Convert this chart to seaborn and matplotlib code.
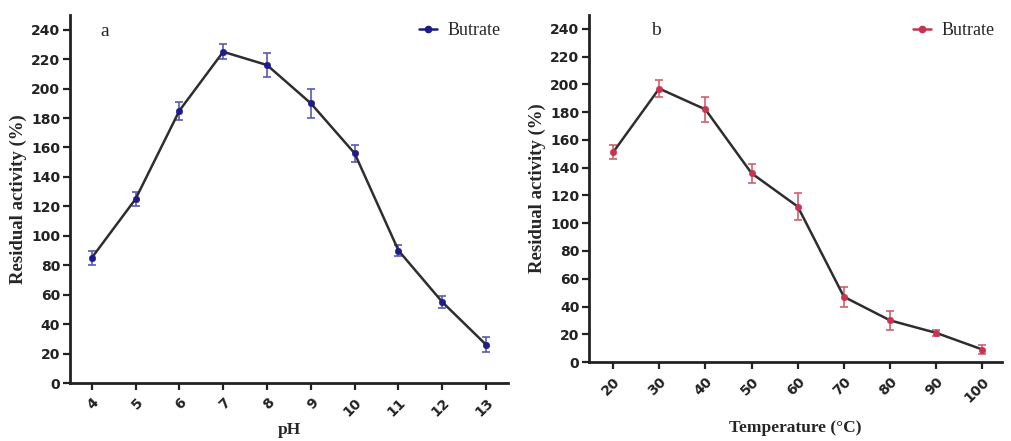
import numpy as np
import pandas as pd
import matplotlib
matplotlib.use("Agg")
import matplotlib.pyplot as plt
from matplotlib.lines import Line2D
import seaborn as sns

# pH panel
ph_values = [4, 5, 6, 7, 8, 9, 10, 11, 12, 13]
ph_activity = [85, 125, 185, 225, 216, 190, 156, 90, 55, 26]
ph_error = [5, 5, 6, 5, 8, 10, 6, 4, 4, 5]

# temperature panel
temp_values = [20, 30, 40, 50, 60, 70, 80, 90, 100]
temp_activity = [151, 197, 182, 136, 112, 47, 30, 21, 9]
temp_error = [5, 6, 9, 7, 10, 7, 7, 2, 3]

y_ticks = list(range(0, 241, 20))

sns.set_style("ticks")
plt.rcParams['font.family'] = ['DejaVu Sans']

fig = plt.figure(figsize=(10.12, 4.41), dpi=100)
ax1 = fig.add_axes([0.069, 0.1315, 0.433, 0.8345])
ax2 = fig.add_axes([0.582, 0.179, 0.408, 0.787])

serif = ['Liberation Serif', 'DejaVu Serif']


def draw_panel(ax, x, y, err, mcolor, ecolor, xlabel, letter, letter_x, xlim, xticks, labelpad):
    df = pd.DataFrame({'x': x, 'y': y})
    ax.errorbar(x, y, yerr=err, fmt='none', ecolor=ecolor, elinewidth=1.2, capsize=3, capthick=1.2, zorder=2)
    sns.lineplot(data=df, x='x', y='y', ax=ax, color='#2e2e2e', linewidth=1.8, zorder=3)
    sns.scatterplot(data=df, x='x', y='y', ax=ax, color=mcolor, s=22, edgecolor=mcolor, zorder=4)
    ax.set_xlim(*xlim)
    ax.set_ylim(0, 250)
    ax.set_yticks(y_ticks)
    ax.set_xticks(xticks)
    ax.set_xticklabels([str(t) for t in xticks], rotation=45, ha='right', rotation_mode='anchor')
    for lab in ax.get_xticklabels() + ax.get_yticklabels():
        lab.set_fontweight('bold')
        lab.set_fontsize(10)
        lab.set_color('#222222')
    ax.tick_params(axis='both', direction='out', length=5, width=1.6, color='#222222', pad=2)
    ax.tick_params(axis='x', pad=4)
    sns.despine(ax=ax)
    for sp in ['left', 'bottom']:
        ax.spines[sp].set_linewidth(2)
        ax.spines[sp].set_color('#222222')
    ax.set_xlabel(xlabel, family=serif, fontweight='bold', fontsize=12.5, labelpad=labelpad)
    ax.set_ylabel('Residual activity (%)', family=serif, fontweight='bold', fontsize=13.5, labelpad=3)
    ax.text(letter_x, 0.955, letter, transform=ax.transAxes, family=serif, fontsize=14, va='center')
    handle = Line2D([0], [0], color=mcolor, marker='o', markersize=4.5, linewidth=1.8)
    ax.legend([handle], ['Butrate'], loc='upper right', frameon=False,
              prop={'family': serif, 'size': 13}, handlelength=1.0,
              borderaxespad=0.0, handletextpad=0.6)
    return ax


draw_panel(ax1, ph_values, ph_activity, ph_error, '#1c1c8a', '#5a5ab0', 'pH', 'a', 0.07,
           (3.5, 13.5), ph_values, 2)
draw_panel(ax2, temp_values, temp_activity, temp_error, '#c8344e', '#d06070', 'Temperature (\u00b0C)', 'b', 0.15,
           (14.8, 104.2), temp_values, 11)

fig.savefig('out.png', dpi=100)
